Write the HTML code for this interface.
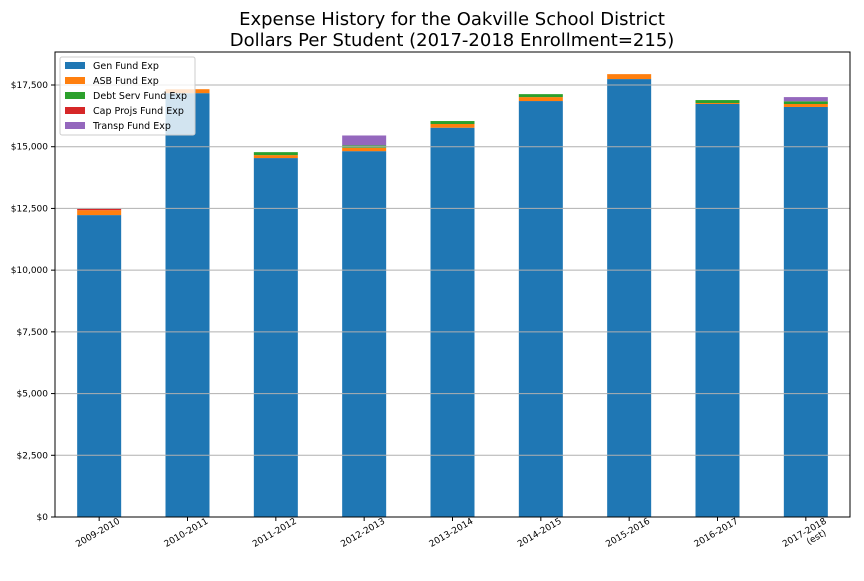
<!DOCTYPE html>
<html><head><meta charset="utf-8"><style>
body{margin:0;background:#fff;font-family:"Liberation Sans","DejaVu Sans",sans-serif}
</style></head><body>
<svg id="chart" width="864" height="576" xmlns="http://www.w3.org/2000/svg" font-family="DejaVu Sans, Liberation Sans, sans-serif">
<rect width="864" height="576" fill="#fff"/>
<text x="452" y="25" font-size="18" text-anchor="middle" fill="#000">Expense History for the Oakville School District</text>
<text x="452" y="46" font-size="18" text-anchor="middle" fill="#000">Dollars Per Student (2017-2018 Enrollment=215)</text>
<g id="bars"></g><g id="grid"></g><g id="axes"></g><g id="legend"></g>
</svg>
<script>
const categories=["2009-2010","2010-2011","2011-2012","2012-2013","2013-2014","2014-2015","2015-2016","2016-2017","2017-2018|(est)"];
const genFund=[12230,17170,14540,14820,15770,16850,17740,16730,16610];
const asbFund=[200,160,120,135,150,160,200,40,120];
const debtServ=[0,0,120,100,120,120,0,120,110];
const capProjs=[55,0,0,0,0,0,0,0,0];
const transp=[0,0,0,400,0,0,0,0,170];
const seriesNames=["Gen Fund Exp","ASB Fund Exp","Debt Serv Fund Exp","Cap Projs Fund Exp","Transp Fund Exp"];
const yTicks=[0,2500,5000,7500,10000,12500,15000,17500];
const yTickLabels=["$0","$2,500","$5,000","$7,500","$10,000","$12,500","$15,000","$17,500"];
const colors=["#1f77b4","#ff7f0e","#2ca02c","#d62728","#9467bd"];
const series=[genFund,asbFund,debtServ,capProjs,transp];
const L=55,R=850,T=52,B=517;
const NS="http://www.w3.org/2000/svg";
const y=v=>B-(v/17500)*(B-85);
const band=(R-L)/categories.length;
const xc=i=>L+band*(i+0.5);
function mk(tag,attrs,parent){const e=document.createElementNS(NS,tag);for(const k in attrs)e.setAttribute(k,attrs[k]);parent.appendChild(e);return e;}
const grid=document.getElementById('grid'),bars=document.getElementById('bars'),axes=document.getElementById('axes'),leg=document.getElementById('legend');
yTicks.forEach((t,i)=>{
  const gl=mk('line',{x1:L,x2:R,y1:y(t),y2:y(t),stroke:'#b0b0b0','stroke-width':1},grid);
  
  
  const tk=mk('line',{x1:L-4,x2:L,y1:y(t),y2:y(t),stroke:'#000'},axes);
  
  
  const tx=mk('text',{x:L-7,y:y(t)+3,'font-size':9,'text-anchor':'end',fill:'#000'},axes);
  tx.textContent=yTickLabels[i];
  
  
});
categories.forEach((c,i)=>{
  let base=0;
  series.forEach((s,k)=>{
    const v=s[i]; if(v<=0)return;
    const r=mk('rect',{x:xc(i)-22,width:44,y:y(base+v),height:y(base)-y(base+v),fill:colors[k]},bars);
    
    
    base+=v;
  });
  const tk=mk('line',{x1:xc(i),x2:xc(i),y1:B,y2:B+4,stroke:'#000'},axes);
  
  
  const parts=c.split('|');
  const tx=mk('text',{'font-size':9,'text-anchor':'middle',fill:'#000',transform:`translate(${xc(i)},${B+18}) rotate(-30)`},axes);
  
  
  parts.forEach((p,j)=>{const ts=mk('tspan',{x:j?8:0,dy:j?10:0},tx);ts.textContent=p;});
});
const fr=mk('rect',{x:L,y:T,width:R-L,height:B-T,fill:'none',stroke:'#000','stroke-width':1},axes);


const lb=mk('rect',{x:60,y:57,width:135,height:78,fill:'#fff','fill-opacity':0.8,stroke:'#ccc',rx:2},leg);


seriesNames.forEach((n,k)=>{
  const yy=62+k*15;
  const sw=mk('rect',{x:65,y:yy,width:20,height:7,fill:colors[k]},leg);
  
  
  const t=mk('text',{x:93,y:yy+7,'font-size':9.5,fill:'#000'},leg);
  t.textContent=n;
  
  
});
</script>
</body></html>
